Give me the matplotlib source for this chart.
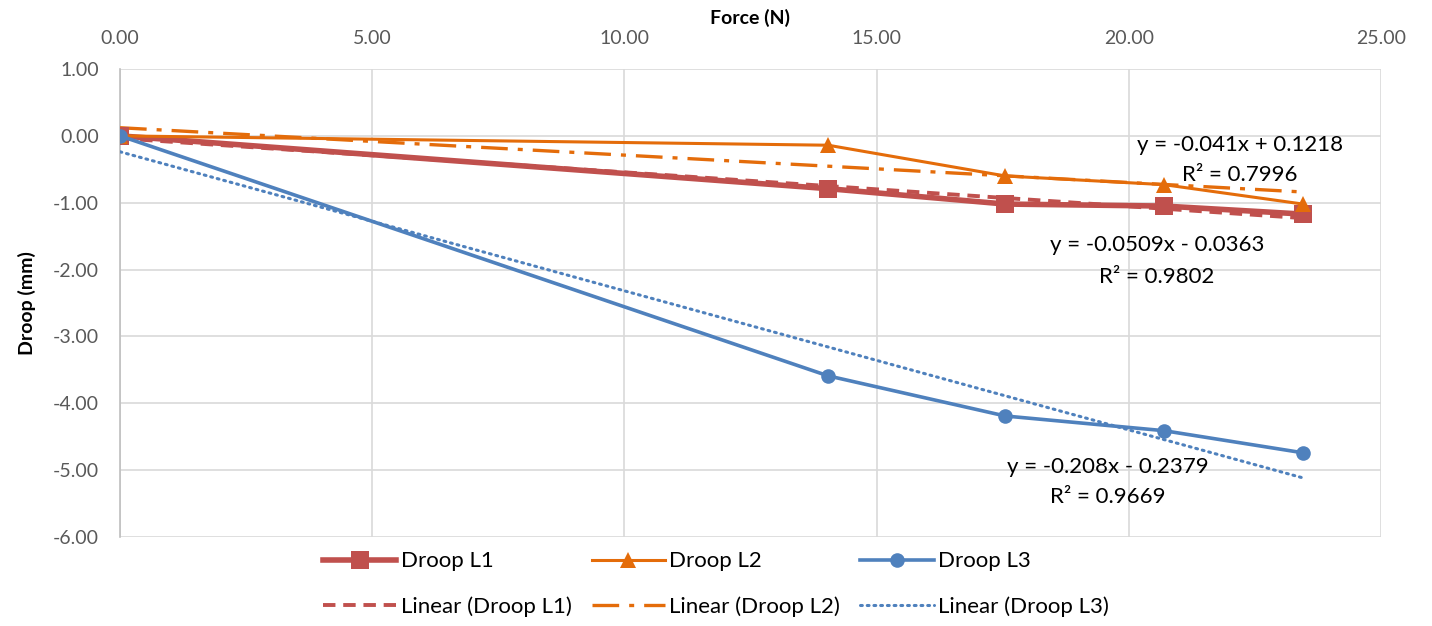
import numpy as np
import matplotlib
matplotlib.use("Agg")
import matplotlib.pyplot as plt

plt.rcParams['font.family'] = ['Lato', 'DejaVu Sans']

# Measured data
force = [0.00, 14.04, 17.55, 20.70, 23.45]
droop_l1 = [0.00, -0.79, -1.02, -1.05, -1.17]
droop_l2 = [0.00, -0.14, -0.60, -0.73, -1.02]
droop_l3 = [0.00, -3.59, -4.19, -4.41, -4.74]

series_names = ["Droop L1", "Droop L2", "Droop L3"]

# Linear trend coefficients (slope, intercept) and R²
slopes = [-0.0509, -0.041, -0.208]
intercepts = [-0.0363, 0.1218, -0.2379]
r_squared = [0.9802, 0.7996, 0.9669]

x_ticks = [0, 5, 10, 15, 20, 25]
y_ticks = [1, 0, -1, -2, -3, -4, -5, -6]

colors = ["#C0504D", "#E46C0A", "#4F81BD"]
markers = ["s", "^", "o"]
msizes = [13, 11, 10.5]
lwidths = [4.0, 2.2, 2.6]
trend_styles = [(0, (3.2, 2.0)), (0, (8, 3, 1.5, 3)), (0, (0.6, 1.6))]
trend_widths = [2.8, 2.4, 2.2]

fig = plt.figure(figsize=(14.32, 6.26), dpi=100)
ax = fig.add_axes([120/1432, 1 - 537/626, (1381-120)/1432, (537-69)/626])

ys = [droop_l1, droop_l2, droop_l3]
xfit = np.array([0.0, max(force)])
main_handles, trend_handles = [], []
for i in range(3):
    yfit = slopes[i] * xfit + intercepts[i]
    tl, = ax.plot(xfit, yfit, color=colors[i], lw=trend_widths[i],
                  linestyle=trend_styles[i], dash_capstyle='round' if i == 2 else 'butt',
                  zorder=3, label=f"Linear ({series_names[i]})")
    trend_handles.append(tl)
for i in range(3):
    ln, = ax.plot(force, ys[i], color=colors[i], lw=lwidths[i], marker=markers[i],
                  markersize=msizes[i], markeredgewidth=0, zorder=4 + i,
                  label=series_names[i])
    main_handles.append(ln)

ax.set_xlim(0, 25)
ax.set_ylim(-6, 1)
ax.set_xticks(x_ticks)
ax.set_yticks(y_ticks)
ax.set_xticklabels([f"{v:.2f}" for v in x_ticks])
ax.set_yticklabels([f"{v:.2f}" for v in y_ticks])
ax.xaxis.tick_top()
ax.xaxis.set_label_position('top')
ax.tick_params(axis='both', length=0, labelsize=14, colors='#595959')
ax.tick_params(axis='x', pad=16)
ax.tick_params(axis='y', pad=15)
ax.grid(True, color='#D9D9D9', lw=1.2)
ax.set_axisbelow(True)
for s in ['right', 'bottom', 'top']:
    ax.spines[s].set_visible(False)
ax.spines['left'].set_color('#BFBFBF')
ax.spines['left'].set_linewidth(1.2)

ax.set_xlabel("Force (N)", fontsize=14, fontweight='bold', labelpad=4)
ax.set_ylabel("Droop (mm)", fontsize=14, fontweight='bold', labelpad=12)

# Trend equations, one line at a time
eq_x = [20.56, 22.2, 19.59]
eq_y1 = [-1.632, -0.136, -4.95]
eq_y2 = [-2.11, -0.585, -5.40]
for i in range(3):
    sign = '+' if intercepts[i] >= 0 else '-'
    ax.text(eq_x[i], eq_y1[i], f"y = {slopes[i]:g}x {sign} {abs(intercepts[i]):g}",
            ha='center', va='center', fontsize=16, color='black', zorder=8)
    ax.text(eq_x[i], eq_y2[i], f"R² = {r_squared[i]:.4f}",
            ha='center', va='center', fontsize=16, color='black', zorder=8)

handles = []
for i in range(3):
    handles += [main_handles[i], trend_handles[i]]
fig.legend(handles=handles, labels=[h.get_label() for h in handles], ncol=3,
           loc='center', bbox_to_anchor=(716/1432, 1 - 584/626), frameon=False,
           fontsize=16, handlelength=3.3, handletextpad=0.2, columnspacing=0.9,
           labelspacing=1.1)

fig.savefig("out.png", dpi=100)
